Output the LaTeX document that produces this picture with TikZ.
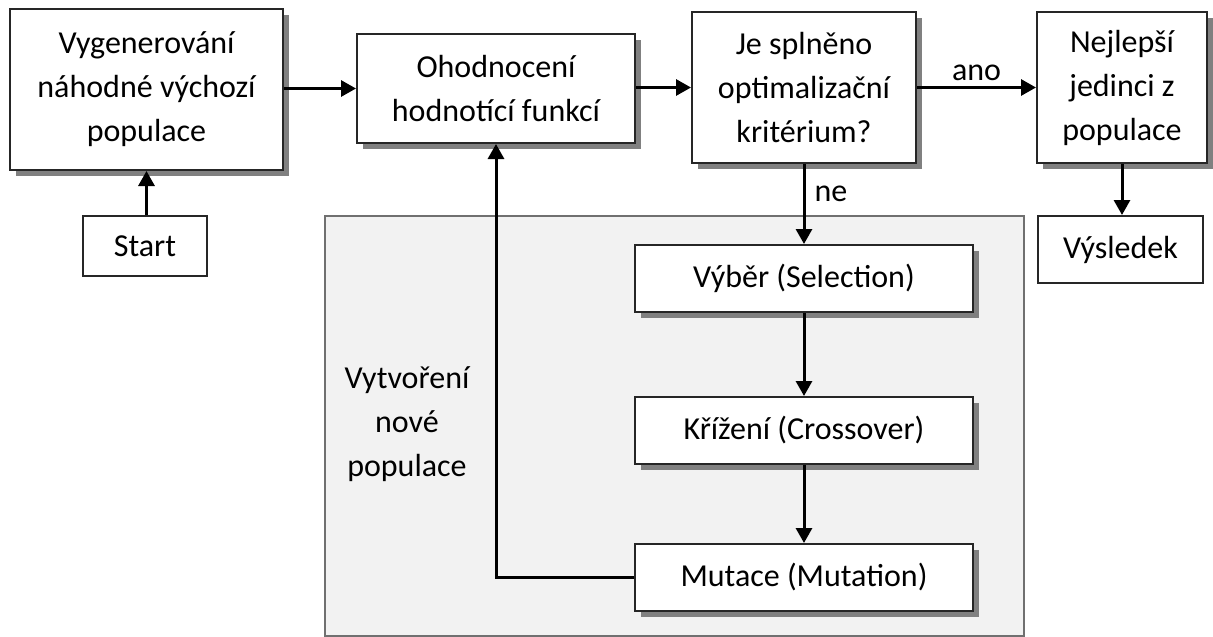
\documentclass[tikz,border=0pt]{standalone}
\usepackage{fontspec}
\setmainfont{Carlito}
\usetikzlibrary{arrows.meta,shadows}
\definecolor{panelfill}{HTML}{F2F2F2}
\definecolor{panelline}{HTML}{707070}
\tikzset{
  plainbox/.style={draw=black!85, line width=2pt, fill=white, inner sep=0pt,
    align=center, anchor=center},
  box/.style={plainbox,
    drop shadow={shadow xshift=6pt, shadow yshift=-6pt, fill=black!50, opacity=1}},
  flow/.style={line width=3pt, -{Triangle[length=15pt,width=16pt]}},
  lbl/.style={inner sep=0pt, align=center},
}
\begin{document}
\begin{tikzpicture}[x=1pt, y=-1pt, font=\fontsize{32}{44}\selectfont]
\useasboundingbox (0,0) rectangle (1213,637);

% panel for creating the new population
\draw[panelline, line width=1.2pt, fill=panelfill] (325,216) rectangle (1024,636);
\node[lbl] (newpop) at (407,424) {Vytvoření\\nové\\populace};

% main flow
\node[box, minimum width=273pt, minimum height=161pt] (gen) at (146.5,89.5)
  {Vygenerování\\náhodné výchozí\\populace};
\node[plainbox, minimum width=124pt, minimum height=60pt] (start) at (145,246) {Start};
\node[box, minimum width=278pt, minimum height=109pt] (eval) at (496,88.5)
  {Ohodnocení\\hodnotící funkcí};
\node[box, minimum width=224pt, minimum height=151pt] (crit) at (804,87.5)
  {Je splněno\\optimalizační\\kritérium?};
\node[box, minimum width=170pt, minimum height=151pt] (best) at (1122,87.5)
  {Nejlepší\\jedinci z\\populace};
\node[plainbox, minimum width=165pt, minimum height=67pt] (result) at (1120.5,249.5) {Výsledek};

% genetic operators
\node[box, minimum width=338pt, minimum height=67pt] (sel) at (804,278.5) {Výběr (Selection)};
\node[box, minimum width=338pt, minimum height=67pt] (cross) at (804,430.5) {Křížení (Crossover)};
\node[box, minimum width=338pt, minimum height=67pt] (mut) at (804,577.5) {Mutace (Mutation)};

% connectors
\draw[flow] (start.north -| gen) -- (gen.south);
\draw[flow] (gen.east |- eval) -- (eval.west);
\draw[flow] (eval.east |- crit) -- (crit.west);
\draw[flow] (crit.east) -- node[lbl, above=5pt] (yes) {ano} (best.west);
\draw[flow] (crit.south) -- node[lbl, pos=0.37, anchor=west, xshift=9pt] (no) {ne} (sel.north);
\draw[flow] (best.south) -- (best.south |- result.north);
\draw[flow] (sel.south) -- (cross.north);
\draw[flow] (cross.south) -- (mut.north);
\draw[flow] (mut.west) -| (eval.south);
\end{tikzpicture}
\end{document}
